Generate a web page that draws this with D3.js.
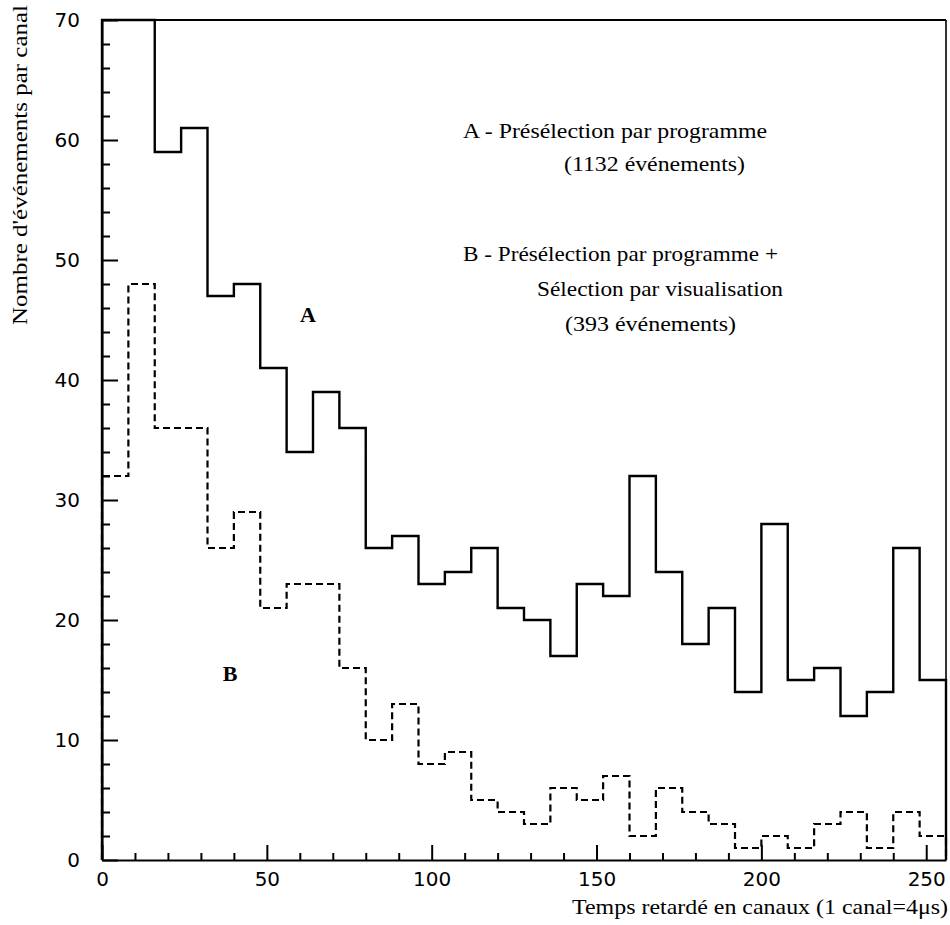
<html>
<head>
<meta charset="utf-8">
<title>Temps retardé</title>
<style>
  body { margin: 0; background: #fff; }
  svg { display: block; }
</style>
</head>
<body>
<script src="https://d3js.org/d3.v7.min.js"></script>
<script>
// bins de 8 canaux (bord gauche)
var binStarts = [0, 8, 16, 24, 32, 40, 48, 56, 64, 72, 80, 88, 96, 104, 112, 120,
                 128, 136, 144, 152, 160, 168, 176, 184, 192, 200, 208, 216, 224, 232, 240, 248];
var binEnd = 256;

// A - Présélection par programme (1132 événements) ; les 2 premiers bins sortent de l'échelle
var countsA = [152, 151, 59, 61, 47, 48, 41, 34, 39, 36, 26, 27, 23, 24, 26, 21,
               20, 17, 23, 22, 32, 24, 18, 21, 14, 28, 15, 16, 12, 14, 26, 15];
// B - Présélection + Sélection par visualisation (393 événements)
var countsB = [32, 48, 36, 36, 26, 29, 21, 23, 23, 16, 10, 13, 8, 9, 5, 4,
               3, 6, 5, 7, 2, 6, 4, 3, 1, 2, 1, 3, 4, 1, 4, 2];

var xMajor = [0, 50, 100, 150, 200, 250];
var xMinor = [10, 20, 30, 40, 60, 70, 80, 90, 110, 120, 130, 140, 160, 170, 180, 190, 210, 220, 230, 240];
var yMajor = [0, 10, 20, 30, 40, 50, 60, 70];
var yMinor = [2, 4, 6, 8, 12, 14, 16, 18, 22, 24, 26, 28, 32, 34, 36, 38, 42, 44, 46, 48,
              52, 54, 56, 58, 62, 64, 66, 68];

var legendLines = [
  { text: "A - Présélection par programme", x: 463, y: 138, len: 304 },
  { text: "(1132 événements)", x: 564, y: 171, len: 181 },
  { text: "B - Présélection par programme +", x: 463, y: 261, len: 315 },
  { text: "Sélection par visualisation", x: 537, y: 296, len: 246 },
  { text: "(393 événements)", x: 565, y: 331, len: 171 }
];

var W = 950, H = 925;
var margin = { top: 20, right: 4, bottom: 65, left: 102 };

var svg = d3.select("body").append("svg")
    .attr("width", W)
    .attr("height", H);

var x = d3.scaleLinear().domain([0, 256]).range([margin.left, W - margin.right]);
var y = d3.scaleLinear().domain([0, 70]).range([H - margin.bottom, margin.top]).clamp(true);

var serif = "'Liberation Serif', 'Times New Roman', serif";
var sans = "'DejaVu Sans', sans-serif";

// cadre haut et droit
svg.append("line")
    .attr("x1", x(0)).attr("x2", x(256))
    .attr("y1", y(70)).attr("y2", y(70))
    .attr("stroke", "#000").attr("stroke-width", 2);
svg.append("line")
    .attr("x1", x(256)).attr("x2", x(256))
    .attr("y1", y(70)).attr("y2", y(0))
    .attr("stroke", "#000").attr("stroke-width", 1.6);

// histogrammes
function stepPoints(counts) {
  var pts = [[0, 0]];
  counts.forEach(function(v, i) { pts.push([binStarts[i], v]); });
  pts.push([binEnd, 0]);
  return pts;
}
var line = d3.line()
    .x(function(d) { return x(d[0]); })
    .y(function(d) { return y(d[1]); })
    .curve(d3.curveStepAfter);

svg.append("path")
    .attr("d", line(stepPoints(countsB)))
    .attr("fill", "none")
    .attr("stroke", "#000")
    .attr("stroke-width", 2.2)
    .attr("stroke-dasharray", "7,4");

svg.append("path")
    .attr("d", line(stepPoints(countsA)))
    .attr("fill", "none")
    .attr("stroke", "#000")
    .attr("stroke-width", 2.4);

// axes
var gx = svg.append("g").attr("transform", "translate(0," + y(0) + ")");
gx.call(d3.axisBottom(x).tickValues(xMinor).tickSize(-7).tickFormat(""))
  .call(function(g) { g.select(".domain").remove(); });
var gx2 = svg.append("g").attr("transform", "translate(0," + y(0) + ")");
gx2.call(d3.axisBottom(x).tickValues(xMajor).tickSizeInner(-15).tickSizeOuter(0).tickPadding(12).tickFormat(d3.format("d")));

var gy = svg.append("g").attr("transform", "translate(" + x(0) + ",0)");
gy.call(d3.axisLeft(y).tickValues(yMinor).tickSize(-8).tickFormat(""))
  .call(function(g) { g.select(".domain").remove(); });
var gy2 = svg.append("g").attr("transform", "translate(" + x(0) + ",0)");
gy2.call(d3.axisLeft(y).tickValues(yMajor).tickSizeInner(-16).tickSizeOuter(0).tickPadding(22).tickFormat(d3.format("d")));

svg.selectAll(".domain").attr("stroke", "#000").attr("stroke-width", 2);
svg.selectAll(".tick line").attr("stroke", "#000").attr("stroke-width", 2);
svg.selectAll(".tick text").attr("font-family", sans).attr("font-size", 20).attr("fill", "#000");

// titres des axes
svg.append("text")
    .attr("x", 572).attr("y", 914)
    .attr("font-family", serif).attr("font-size", 21)
    .attr("textLength", 376).attr("lengthAdjust", "spacingAndGlyphs")
    .text("Temps retardé en canaux (1 canal=4μs)");

svg.append("text")
    .attr("transform", "translate(27,325) rotate(-90)")
    .attr("font-family", serif).attr("font-size", 21)
    .attr("textLength", 320).attr("lengthAdjust", "spacingAndGlyphs")
    .text("Nombre d'événements par canal");

// légende
svg.selectAll(".legend")
    .data(legendLines)
    .enter()
    .append("text")
    .attr("class", "legend")
    .attr("x", function(d) { return d.x; })
    .attr("y", function(d) { return d.y; })
    .attr("font-family", serif).attr("font-size", 21)
    .attr("textLength", function(d) { return d.len; })
    .attr("lengthAdjust", "spacingAndGlyphs")
    .text(function(d) { return d.text; });

// étiquettes des courbes
svg.append("text")
    .attr("x", 308).attr("y", 322)
    .attr("text-anchor", "middle")
    .attr("font-family", serif).attr("font-size", 22).attr("font-weight", "bold")
    .text("A");
svg.append("text")
    .attr("x", 230).attr("y", 681)
    .attr("text-anchor", "middle")
    .attr("font-family", serif).attr("font-size", 22).attr("font-weight", "bold")
    .text("B");
</script>
</body>
</html>
